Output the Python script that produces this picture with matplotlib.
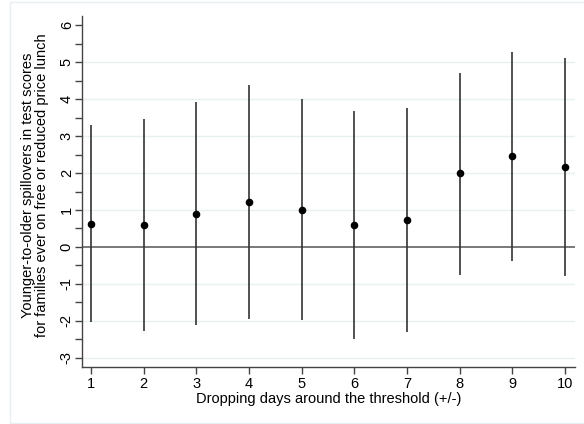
import matplotlib.pyplot as plt
from matplotlib.patches import Rectangle
from matplotlib.ticker import MultipleLocator

plt.rcParams['font.family'] = ['Liberation Sans', 'DejaVu Sans']

days = [1, 2, 3, 4, 5, 6, 7, 8, 9, 10]
est = [0.63, 0.60, 0.89, 1.21, 1.01, 0.58, 0.74, 1.99, 2.45, 2.17]
upper = [3.30, 3.47, 3.93, 4.39, 4.00, 3.67, 3.77, 4.71, 5.27, 5.11]
lower = [-2.03, -2.28, -2.12, -1.96, -1.99, -2.49, -2.30, -0.75, -0.37, -0.78]
yticks = [-3, -2, -1, 0, 1, 2, 3, 4, 5, 6]
grid_levels = [-3, -2, -1, 1, 2, 3, 4, 5]

fig = plt.figure(figsize=(5.84, 4.24), dpi=100)
fig.patches.append(Rectangle((9.5 / 584, 1.5 / 424), 1.0, 420.5 / 424,
                             transform=fig.transFigure, fill=False,
                             edgecolor='#e6eff1', linewidth=1.0))
ax = fig.add_axes([81.5 / 584, 57 / 424, (575 - 81.5) / 584, (408 - 57) / 424])

for g in grid_levels:
    ax.axhline(g, color='#e8f0f2', linewidth=1.0, zorder=0)
ax.axhline(0, color='#555555', linewidth=1.1, zorder=1)

ax.vlines(days, lower, upper, color='#333333', linewidth=1.2, zorder=2)
ax.scatter(days, est, s=20, color='black', zorder=3)

ax.set_xlim(0.82, 10.19)
ax.set_ylim(-3.25, 6.25)
ax.set_xticks(days)
ax.set_yticks(yticks)
ax.yaxis.set_minor_locator(MultipleLocator(0.5))
ax.set_yticklabels([str(t) for t in yticks], rotation=90, va='center')

for s in ['top', 'right']:
    ax.spines[s].set_visible(False)
for s in ['left', 'bottom']:
    ax.spines[s].set_color('#444444')
    ax.spines[s].set_linewidth(1.0)

ax.tick_params(axis='both', which='both', length=5, width=1.0,
               color='#444444', labelsize=10.5)
ax.tick_params(axis='x', which='both', pad=2)
ax.tick_params(axis='y', which='both', pad=0.5)

ax.set_xlabel('Dropping days around the threshold (+/-)', fontsize=10.5)
ax.xaxis.set_label_coords(0.5, -0.072)
ax.set_ylabel('Younger-to-older spillovers in test scores\n'
              'for families ever on free or reduced price lunch',
              fontsize=10.5, linespacing=0.95)
ax.yaxis.set_label_coords(-0.066, 0.518)

fig.savefig('out.png', dpi=100)
